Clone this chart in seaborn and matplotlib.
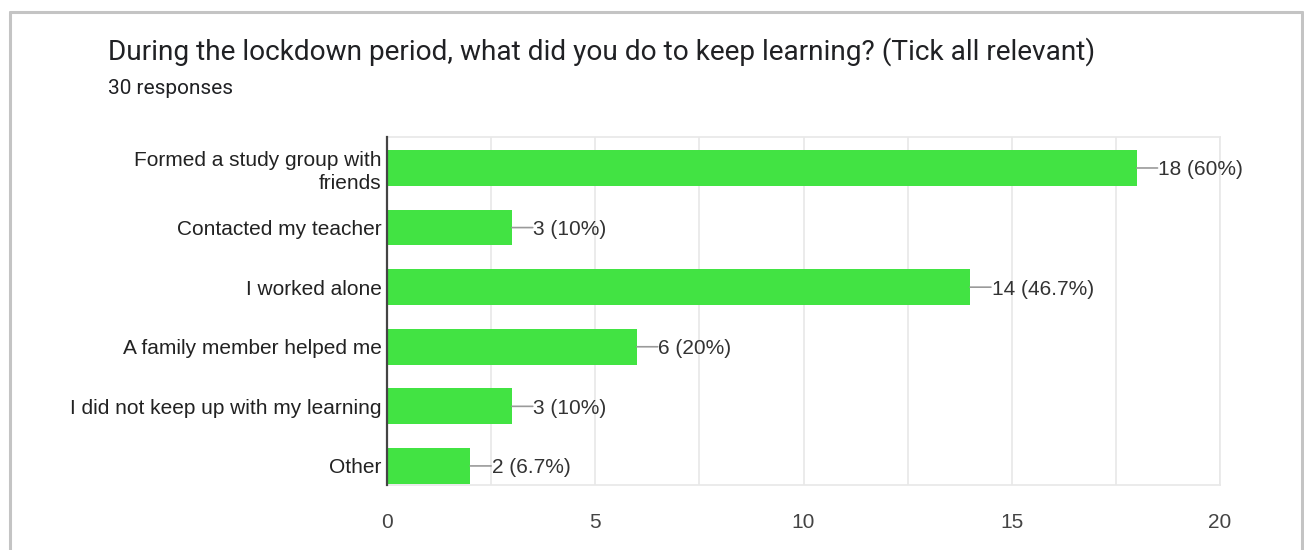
import matplotlib
matplotlib.use("Agg")
import matplotlib.pyplot as plt
import seaborn as sns
import pandas as pd
import numpy as np

# Survey answers and counts
answers = [
    "Formed a study group with\nfriends",
    "Contacted my teacher",
    "I worked alone",
    "A family member helped me",
    "I did not keep up with my learning",
    "Other",
]
counts = [18, 3, 14, 6, 3, 2]
value_labels = ["18 (60%)", "3 (10%)", "14 (46.7%)", "6 (20%)", "3 (10%)", "2 (6.7%)"]
x_ticks = [0, 5, 10, 15, 20]

title = "During the lockdown period, what did you do to keep learning? (Tick all relevant)"
subtitle = "30 responses"

df = pd.DataFrame({"answer": answers, "count": counts})

sns.set_theme(style="white")
plt.rcParams["font.family"] = ["Liberation Sans", "DejaVu Sans"]

fig = plt.figure(figsize=(13.04, 5.5), dpi=100)
ax = fig.add_axes([387 / 1304, 1 - 485 / 550, (1220 - 387) / 1304, (485 - 137) / 550])

bar_color = "#42e343"
sns.barplot(data=df, y="answer", x="count", orient="h", color=bar_color,
            width=0.6, saturation=1, ax=ax, zorder=3, linewidth=0)

ax.set_xlim(0, 20)
ax.set_ylim(5.32, -0.52)

# grid at every 2.5, ticks at every 5
ax.set_xticks(x_ticks)
ax.set_xticks(np.arange(0, 20.1, 2.5), minor=True)
ax.grid(False)
ax.xaxis.grid(True, which="both", color="#e8e8e8", linewidth=1.2, zorder=0)
ax.set_axisbelow(True)
ax.tick_params(axis="both", which="both", length=0)
ax.tick_params(axis="x", labelsize=15, colors="#444444", pad=20)
ax.tick_params(axis="y", labelsize=15, colors="#222222", pad=4)
for t in ax.get_yticklabels():
    t.set_linespacing(1.25)
ax.set_xlabel("")
ax.set_ylabel("")

for side in ["top", "right", "bottom"]:
    ax.spines[side].set_color("#e8e8e8")
    ax.spines[side].set_linewidth(1.2)
ax.spines["left"].set_color("#444444")
ax.spines["left"].set_linewidth(1.6)
ax.spines["left"].set_zorder(5)

# leader lines and value labels
for i, (c, lab) in enumerate(zip(counts, value_labels)):
    ax.annotate("", xy=(c, i), xytext=(15, 0), textcoords="offset points",
                xycoords="data",
                arrowprops=dict(arrowstyle="-", color="#9a9a9a", lw=1.2,
                                shrinkA=0, shrinkB=0))
    ax.annotate(lab, xy=(c, i), xytext=(15.5, 0), textcoords="offset points",
                ha="left", va="center_baseline", fontsize=15, color="#333333")

# headings
fig.text(108 / 1304, 1 - 52 / 550, title, fontsize=20.2, color="#202124",
         family=["Roboto", "DejaVu Sans"], ha="left", va="center")
fig.text(108 / 1304, 1 - 89 / 550, subtitle, fontsize=15, color="#202124",
         family=["Roboto", "DejaVu Sans"], ha="left", va="center")

# card border (left, top, right)
fig.add_artist(plt.Line2D([9.5 / 1304, 9.5 / 1304], [0, 1 - 12 / 550],
                          transform=fig.transFigure, color="#c4c4c4", lw=2.2))
fig.add_artist(plt.Line2D([9.5 / 1304, 1301.5 / 1304], [1 - 12 / 550, 1 - 12 / 550],
                          transform=fig.transFigure, color="#c4c4c4", lw=2.2))
fig.add_artist(plt.Line2D([1301.5 / 1304, 1301.5 / 1304], [0, 1 - 12 / 550],
                          transform=fig.transFigure, color="#c4c4c4", lw=2.2))

fig.savefig("out.png", dpi=100, facecolor="white")
